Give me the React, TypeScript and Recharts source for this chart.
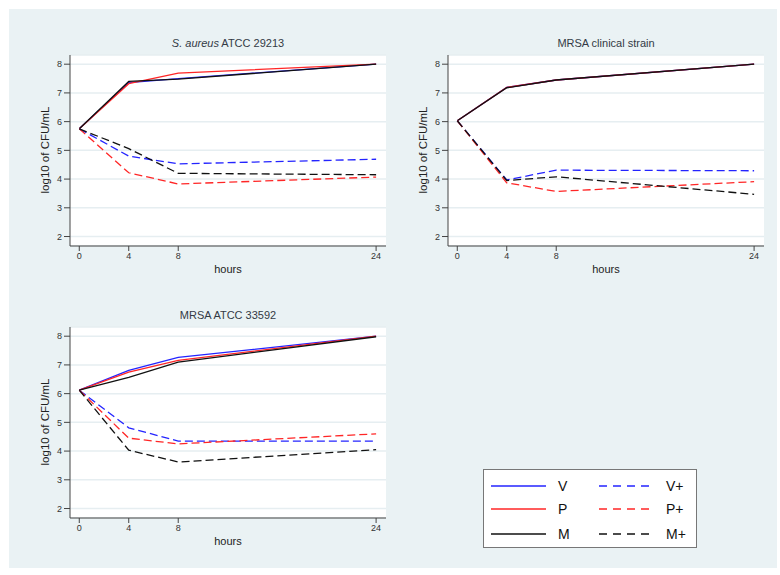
import React from "react";
import { LineChart, Line, XAxis, YAxis, CartesianGrid } from "recharts";

// time points (hours)
const hours = [0, 4, 8, 24];
const xTicks = [0, 4, 8, 24];
const yTicks = [2, 3, 4, 5, 6, 7, 8];

// S. aureus ATCC 29213
const saV = [5.75, 7.36, 7.5, 8.0];
const saP = [5.75, 7.32, 7.69, 8.0];
const saM = [5.75, 7.4, 7.48, 8.0];
const saVp = [5.75, 4.8, 4.53, 4.69];
const saPp = [5.75, 4.22, 3.83, 4.07];
const saMp = [5.75, 5.06, 4.2, 4.15];

// MRSA clinical strain
const mcV = [6.03, 7.19, 7.45, 8.0];
const mcP = [6.03, 7.19, 7.45, 8.0];
const mcM = [6.03, 7.18, 7.45, 8.0];
const mcVp = [6.03, 3.97, 4.31, 4.29];
const mcPp = [6.03, 3.87, 3.57, 3.91];
const mcMp = [6.03, 3.95, 4.08, 3.47];

// MRSA ATCC 33592
const maV = [6.12, 6.81, 7.26, 8.0];
const maP = [6.12, 6.75, 7.16, 8.0];
const maM = [6.12, 6.57, 7.1, 7.98];
const maVp = [6.12, 4.81, 4.35, 4.35];
const maPp = [6.12, 4.45, 4.25, 4.6];
const maMp = [6.12, 4.03, 3.62, 4.05];

const BLUE = "#2424ff";
const RED = "#ff2626";
const BLACK = "#111111";
const DASH = "8 4";
const FONT = "'Liberation Sans', Arial, sans-serif";

const seriesDefs = [
  { key: "V", color: BLUE, dashed: false },
  { key: "P", color: RED, dashed: false },
  { key: "M", color: BLACK, dashed: false },
  { key: "V+", color: BLUE, dashed: true },
  { key: "P+", color: RED, dashed: true },
  { key: "M+", color: BLACK, dashed: true },
];

function buildRows(series: number[][]) {
  return hours.map((h, i) => {
    const row: any = { h };
    seriesDefs.forEach((s, j) => {
      row[s.key] = series[j][i];
    });
    return row;
  });
}

function Panel({
  left,
  top,
  title,
  series,
}: {
  left: number;
  top: number;
  title: React.ReactNode;
  series: number[][];
}) {
  const data = buildRows(series);
  const tick = { fontSize: 9, fill: "#333", fontFamily: FONT };
  return (
    <div style={{ position: "absolute", left, top, width: 380, height: 240 }}>
      <div
        style={{
          position: "absolute",
          left: 50,
          width: 316,
          top: 7,
          textAlign: "center",
          fontSize: 11,
          color: "#333a45",
          fontFamily: FONT,
        }}
      >
        {title}
      </div>
      <LineChart
        width={380}
        height={240}
        data={data}
        margin={{ top: 25, right: 14, left: 0, bottom: 2 }}
      >
        <CartesianGrid vertical={false} stroke="#e6eef1" strokeWidth={1.5} fill="#ffffff" />
        <XAxis
          dataKey="h"
          type="number"
          domain={[-0.75, 24.8]}
          ticks={xTicks}
          allowDataOverflow
          height={22}
          tickSize={5}
          tick={tick}
          stroke="#444"
        />
        <YAxis
          type="number"
          domain={[1.67, 8.32]}
          ticks={yTicks}
          allowDataOverflow
          width={50}
          tickSize={6}
          tick={tick}
          stroke="#444"
        />
        {seriesDefs.map((s) => (
          <Line
            key={s.key}
            dataKey={s.key}
            stroke={s.color}
            strokeWidth={1.3}
            strokeDasharray={s.dashed ? DASH : undefined}
            dot={false}
            activeDot={false}
            isAnimationActive={false}
          />
        ))}
      </LineChart>
      <div
        style={{
          position: "absolute",
          left: 50,
          width: 316,
          top: 233,
          textAlign: "center",
          fontSize: 11,
          color: "#222",
          fontFamily: FONT,
        }}
      >
        hours
      </div>
      <div
        style={{
          position: "absolute",
          left: 25,
          top: 120,
          transform: "translate(-50%, -50%) rotate(-90deg)",
          whiteSpace: "nowrap",
          fontSize: 11.5,
          color: "#222",
          fontFamily: FONT,
        }}
      >
        log10 of CFU/mL
      </div>
    </div>
  );
}

function LegendBox() {
  const rows = [
    [seriesDefs[0], seriesDefs[3]],
    [seriesDefs[1], seriesDefs[4]],
    [seriesDefs[2], seriesDefs[5]],
  ];
  const rowY = [16, 39, 64];
  return (
    <div
      style={{
        position: "absolute",
        left: 483,
        top: 469,
        width: 212,
        height: 77,
        background: "#fff",
        border: "1px solid #777",
        fontFamily: FONT,
      }}
    >
      <svg width={212} height={77} style={{ position: "absolute", left: 0, top: 0 }}>
        {rows.map((pair, i) =>
          pair.map((s, j) => (
            <g key={s.key}>
              <line
                x1={j === 0 ? 7 : 115}
                x2={j === 0 ? 62 : 170}
                y1={rowY[i]}
                y2={rowY[i]}
                stroke={s.color}
                strokeWidth={1.3}
                strokeDasharray={s.dashed ? "8 6" : undefined}
              />
              <text
                x={j === 0 ? 74 : 182}
                y={rowY[i] + 5}
                fontSize={14}
                fill="#111"
                fontFamily={FONT}
              >
                {s.key}
              </text>
            </g>
          ))
        )}
      </svg>
    </div>
  );
}

export default function App() {
  return (
    <div
      style={{
        position: "absolute",
        left: 0,
        top: 0,
        width: 780,
        height: 575,
        background: "#ffffff",
        overflow: "hidden",
      }}
    >
      <div
        style={{
          position: "absolute",
          left: 9,
          top: 9,
          width: 768,
          height: 559,
          background: "#eaf2f4",
        }}
      />
      <Panel
        left={20}
        top={30}
        title={
          <span>
            <i>S. aureus</i> ATCC 29213
          </span>
        }
        series={[saV, saP, saM, saVp, saPp, saMp]}
      />
      <Panel
        left={398}
        top={30}
        title="MRSA clinical strain"
        series={[mcV, mcP, mcM, mcVp, mcPp, mcMp]}
      />
      <Panel
        left={20}
        top={302}
        title="MRSA ATCC 33592"
        series={[maV, maP, maM, maVp, maPp, maMp]}
      />
      <LegendBox />
    </div>
  );
}
